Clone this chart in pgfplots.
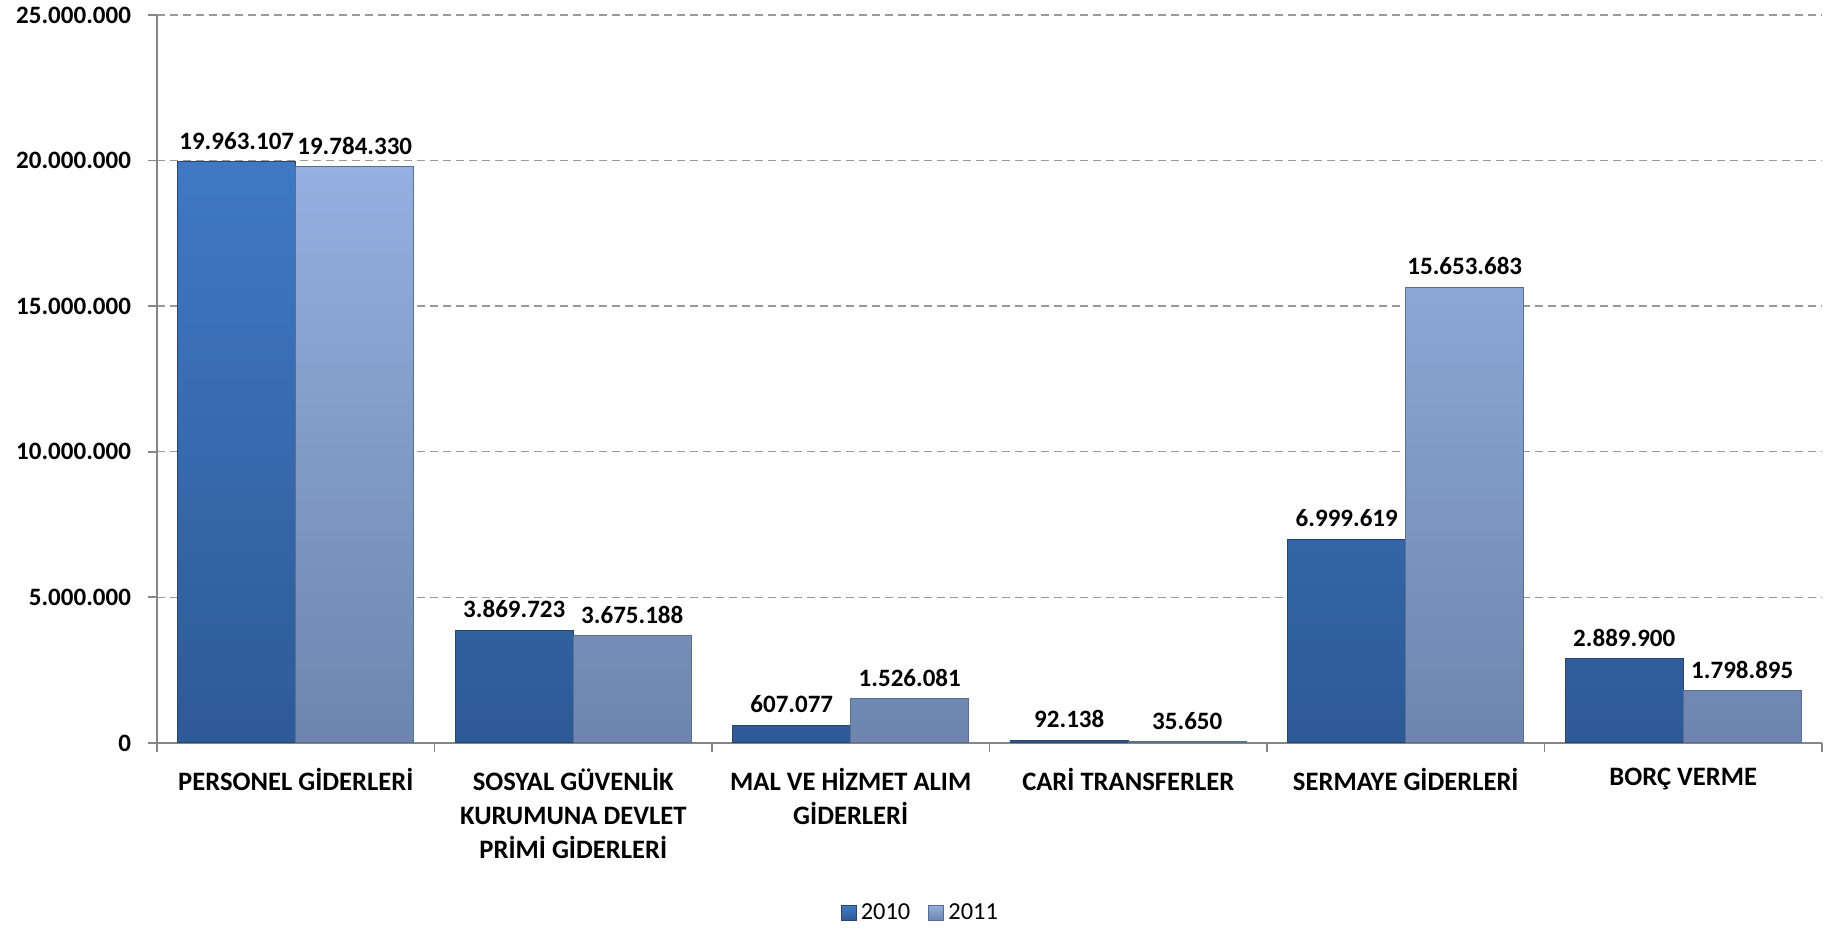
\documentclass[border=0pt]{standalone}
\usepackage{fontspec}
\setmainfont{Carlito}
\usepackage{pgfplots}
\pgfplotsset{compat=1.18}
\definecolor{axisgray}{HTML}{868686}
\definecolor{gridgray}{HTML}{9A9A9A}
\definecolor{darktop}{HTML}{3F79C4}
\definecolor{darkbot}{HTML}{2E5A96}
\definecolor{darkedge}{HTML}{27456F}
\definecolor{lighttop}{HTML}{93B0E0}
\definecolor{lightbot}{HTML}{6E85AE}
\definecolor{lightedge}{HTML}{5A6E92}

\begin{document}
\begin{tikzpicture}
\path[use as bounding box] (0,0) rectangle (912.5pt,464.5pt);
\begin{axis}[
    at={(78.5pt,93pt)}, anchor=south west,
    scale only axis, width=832.5pt, height=364pt,
    ybar=0pt, bar width=59pt,
    xmin=-0.5, xmax=5.5, ymin=0, ymax=25000000,
    axis x line*=bottom, axis y line*=left,
    axis line style={axisgray, line width=0.9pt},
    tick align=outside,
    ytick={0,5000000,10000000,15000000,20000000,25000000},
    yticklabels={0,5.000.000,10.000.000,15.000.000,20.000.000,25.000.000},
    ytick style={axisgray, line width=0.9pt},
    major tick length=4.5pt,
    ymajorgrids, major grid style={gridgray, line width=0.7pt, dash pattern=on 4pt off 2.5pt},
    xtick={-0.5,0.5,...,5.5}, xticklabels={},
    xtick style={axisgray, line width=0.9pt},
    extra x ticks={0,1,2,3,4,5},
    extra x tick labels={PERSONEL GİDERLERİ, {SOSYAL GÜVENLİK\\KURUMUNA DEVLET\\PRİMİ GİDERLERİ}, {MAL VE HİZMET ALIM\\GİDERLERİ}, CARİ TRANSFERLER, SERMAYE GİDERLERİ, BORÇ VERME},
    extra x tick style={major tick length=0pt, grid=none},
    xticklabel style={font=\fontsize{13.3}{17}\selectfont\bfseries, align=center, yshift=-9pt},
    yticklabel style={font=\fontsize{12.5}{14}\selectfont\bfseries, xshift=-5pt, inner ysep=0pt},
    /pgf/number format/assume math mode=true,
    point meta=explicit symbolic,
    nodes near coords,
    nodes near coords style={font=\fontsize{12.5}{14}\selectfont\bfseries, anchor=south, yshift=2.5pt, black},
    legend columns=2,
    legend style={at={(0.459,-0.2335)}, anchor=center, draw=none, font=\fontsize{12.2}{14}\selectfont,
        /tikz/every even column/.append style={column sep=7pt}},
    legend image code/.code={\path[#1] (0pt,-3.8pt) rectangle (7.6pt,3.8pt);},
]
\addplot[top color=darktop, bottom color=darkbot, draw=darkedge, line width=0.5pt] coordinates {
    (0,19963107) [19.963.107]
    (1,3869723) [3.869.723]
    (2,607077) [607.077]
    (3,92138) [92.138]
    (4,6999619) [6.999.619]
    (5,2889900) [2.889.900]
};
\addplot[top color=lighttop, bottom color=lightbot, draw=lightedge, line width=0.5pt] coordinates {
    (0,19784330) [19.784.330]
    (1,3675188) [3.675.188]
    (2,1526081) [1.526.081]
    (3,35650) [35.650]
    (4,15653683) [15.653.683]
    (5,1798895) [1.798.895]
};
\legend{2010,2011}
\end{axis}
\end{tikzpicture}
\end{document}
